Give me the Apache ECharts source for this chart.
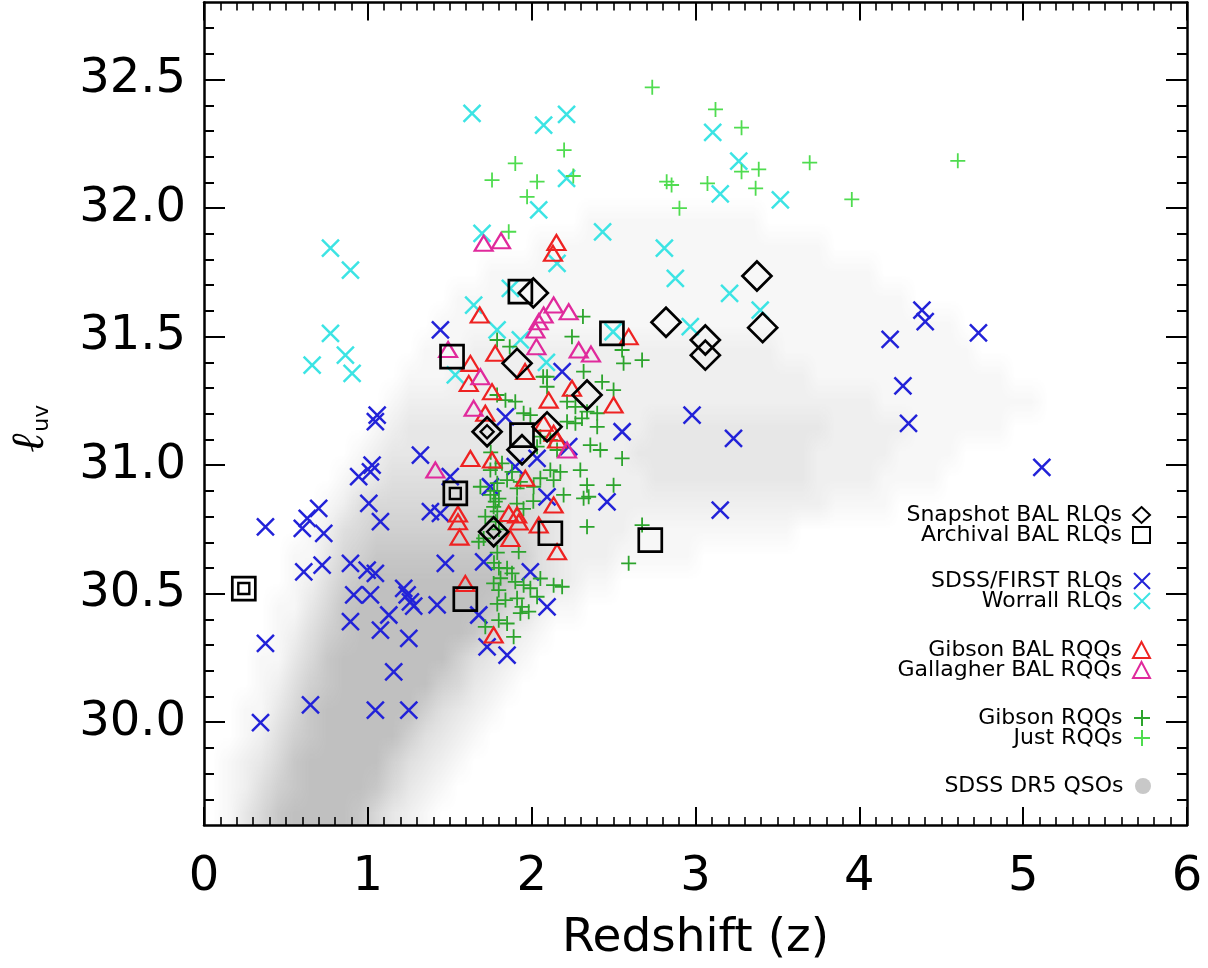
<!DOCTYPE html>
<html><head><meta charset="utf-8">
<script src="https://cdn.jsdelivr.net/npm/echarts@6/dist/echarts.min.js"></script>
<style>html,body{margin:0;padding:0;background:#fff}#c{width:1208px;height:968px}</style>
</head><body><div id="c"></div>
<script>
// ---------------- data ----------------
const xTicks = [0, 1, 2, 3, 4, 5, 6];
const yMajorTicks = [30.0, 30.5, 31.0, 31.5, 32.0, 32.5];
const yMinorTicks = [29.7, 29.8, 29.9, 30.1, 30.2, 30.3, 30.4, 30.6, 30.7, 30.8, 30.9, 31.1, 31.2, 31.3, 31.4,
  31.6, 31.7, 31.8, 31.9, 32.1, 32.2, 32.3, 32.4, 32.6, 32.7];

// [z, l_uv, double-outline flag]
const snapshotBAL = [[2.01,31.67,0],[2.82,31.556,0],[3.375,31.736,0],[3.41,31.535,0],[3.06,31.487,0],[3.06,31.428,0],
  [1.911,31.396,0],[2.338,31.273,0],[2.094,31.149,0],[1.728,31.13,1],[1.941,31.06,0],[1.768,30.741,1]];
const archivalBAL = [[0.243,30.52,1],[1.514,31.422,0],[1.534,30.89,1],[1.595,30.479,0],[1.931,31.675,0],
  [1.941,31.117,0],[2.114,30.735,0],[2.49,31.513,0],[2.724,30.708,0]];

const sdssFirstRLQs = [[1.443,31.526],[1.057,31.195],[1.046,31.169],[1.321,31.039],[1.026,31.0],[1.016,30.974],
  [0.944,30.955],[0.70,30.832],[0.63,30.793],[0.60,30.754],[0.731,30.735],[0.375,30.76],[1.006,30.851],[1.077,30.78],
  [1.382,30.819],[1.443,30.812],[1.503,30.955],[1.84,31.188],[1.748,30.916],[1.90,30.994],[2.033,31.026],[2.094,30.877],
  [1.473,30.618],[1.707,30.624],[0.609,30.585],[0.721,30.611],[0.894,30.618],[0.996,30.592],[1.046,30.579],[1.992,30.585],
  [0.914,30.495],[1.016,30.495],[1.219,30.521],[1.24,30.495],[1.26,30.468],[1.28,30.452],[1.423,30.456],[0.894,30.391],
  [1.128,30.417],[1.077,30.358],[1.25,30.326],[0.375,30.307],[1.158,30.196],[0.65,30.067],[1.046,30.047],[1.25,30.047],
  [0.345,29.998],[1.677,30.417],[1.728,30.293],[1.85,30.261],[2.094,30.449],[2.552,31.13],[2.226,31.072],[2.46,30.857],
  [2.186,31.364],[2.979,31.195],[3.232,31.104],[3.151,30.825],[4.382,31.603],[4.402,31.558],[4.188,31.489],[4.727,31.515],
  [4.266,31.308],[4.30,31.163],[5.114,30.991]];
const worrallRLQs = [[1.636,32.369],[2.073,32.323],[2.213,32.365],[0.772,31.844],[0.894,31.759],[2.043,31.993],[1.697,31.902],
  [0.772,31.513],[0.863,31.428],[0.66,31.389],[0.904,31.357],[1.646,31.623],[1.534,31.351],[1.789,31.526],[1.87,31.688],
  [1.931,31.487],[3.105,32.295],[3.264,32.183],[2.213,32.116],[3.151,32.055],[3.518,32.032],[2.433,31.908],[2.81,31.844],
  [2.877,31.727],[3.208,31.668],[2.155,31.785],[2.497,31.519],[3.395,31.603],[2.968,31.539],[2.09,31.40]];
const gibsonBALRQQs = [[2.151,31.866],[2.13,31.824],[1.683,31.584],[1.778,31.435],[1.626,31.396],[2.592,31.5],[1.96,31.364],
  [1.616,31.318],[1.758,31.286],[2.246,31.299],[2.104,31.253],[2.50,31.234],[1.717,31.202],[2.073,31.163],[2.134,31.124],
  [2.155,31.098],[1.626,31.026],[1.758,31.02],[1.961,30.949],[2.134,30.845],[1.86,30.812],[1.911,30.806],[1.55,30.81],
  [1.55,30.78],[1.56,30.72],[1.87,30.715],[1.921,30.779],[2.043,30.767],[2.155,30.663],[1.595,30.54],[1.768,30.339]];
const gallagherBALRQQs = [[1.707,31.863],[1.813,31.873],[2.134,31.623],[2.226,31.597],[2.073,31.584],[2.043,31.558],
  [2.023,31.526],[2.029,31.461],[2.287,31.448],[2.362,31.432],[1.49,31.45],[1.687,31.344],[1.646,31.221],[2.216,31.059],
  [1.412,30.981]];
const gibsonRQQs = [[1.866,31.461],[2.313,31.578],[2.246,31.5],[2.552,31.448],[2.561,31.396],[2.674,31.409],[2.094,31.344],
  [2.317,31.364],[2.43,31.324],[2.50,31.292],[1.84,31.253],[1.90,31.247],[1.789,31.273],[2.216,31.247],[2.267,31.227],
  [1.951,31.202],[1.992,31.195],[2.338,31.208],[2.40,31.202],[2.216,31.169],[2.267,31.163],[2.307,31.182],[2.40,31.149],
  [2.114,31.098],[2.053,31.111],[2.033,31.072],[2.155,31.059],[2.358,31.078],[2.419,31.059],[2.552,31.026],[1.748,30.981],
  [1.819,31.007],[1.931,30.935],[2.012,30.916],[2.053,30.949],[2.114,30.981],[2.175,30.974],[2.134,30.942],[2.297,30.981],
  [2.338,30.922],[2.50,30.922],[2.195,30.884],[2.317,30.871],[2.348,30.877],[1.687,30.916],[1.748,30.884],[1.778,30.858],
  [1.768,30.838],[1.85,30.942],[1.911,30.91],[1.88,30.974],[2.01,30.86],[1.95,30.83],[1.91,30.85],[1.717,30.80],
  [1.707,30.715],[1.677,30.702],[1.921,30.663],[2.338,30.76],[2.592,30.618],[2.674,30.767],[1.85,30.599],[1.88,30.579],
  [1.90,30.546],[1.951,30.533],[1.992,30.521],[2.053,30.559],[2.134,30.533],[2.186,30.527],[1.768,30.54],[1.799,30.514],
  [1.84,30.475],[1.911,30.482],[1.941,30.449],[1.982,30.43],[1.931,30.424],[2.033,30.488],[1.799,30.397],[1.85,30.384],
  [1.717,30.371],[1.89,30.332],[1.75,31.05],[1.78,30.99],[1.79,30.93],[1.77,30.9],[1.8,30.87],[1.79,30.82],[1.78,30.78],
  [1.8,30.75],[1.79,30.66],[1.77,30.62],[1.8,30.6],[1.81,30.56],[1.79,30.46],[2.07,31.344],[2.094,31.305],[1.789,31.487]];
const justRQQs = [[2.736,32.47],[3.122,32.384],[3.281,32.313],[2.198,32.226],[2.254,32.125],[2.824,32.103],[2.854,32.09],
  [3.073,32.096],[3.281,32.142],[3.386,32.151],[3.367,32.077],[3.697,32.177],[2.902,32.0],[3.954,32.034],[4.601,32.184],
  [1.86,31.908],[1.90,32.174],[1.758,32.109],[2.033,32.103],[1.972,32.044]];

// SDSS DR5 QSO cloud: relative density (0-9) per cell; columns z = 0..6 step 0.1, rows l = 32.8 down to 29.6 step 0.1
// (each row lists its leading cells; the rest of the row is empty)
const cloudCols = 60, cloudZMin = 0, cloudZMax = 6, cloudLMin = 29.6, cloudLMax = 32.8;
const cloudRows = [
  "", "", "", "", "", "", "", "",
  "0000000000000000000000011111111111",
  "00000000000000000000111111111111111111",
  "00000000000000000111111111111111111111111",
  "0000000000000001111111111111111111111111111",
  "0000000000000011111111111111111111111111111111",
  "00000000000001112222222222222222222111111111111",
  "0000000000001112222222222222222222222111111111111",
  "000000000001222222222222222222222222222221111111111",
  "0000000000123333333322222223333333333322222111111",
  "0000000001233333333332222233333333333222221111",
  "000000001234444444444322222333333333322221111",
  "000000012455555555554322222222222222221111",
  "000000124566666666654322221111111111",
  "000001135677777777664322211111",
  "0000012467888888887543211",
  "00001135788888888754211",
  "000012467888888875321",
  "00011357888888864321",
  "0001246788888865321",
  "001135788888864321",
  "00124678888864321",
  "0123578888864321",
  "012467888875321",
  "01357888875321"
];

// ---------------- build ----------------
const cloudCanvas = document.createElement('canvas');
cloudCanvas.width = cloudCols; cloudCanvas.height = cloudRows.length;
(function () {
  const ctx = cloudCanvas.getContext('2d');
  cloudRows.forEach((row, r) => {
    const s = row.padEnd(cloudCols, '0');
    for (let c = 0; c < cloudCols; c++) {
      const v = +s[c];
      if (v > 0) {
        ctx.fillStyle = 'rgba(90,90,90,' + (v * 0.048).toFixed(3) + ')';
        ctx.fillRect(c, r, 1, 1);
      }
    }
  });
})();

const FONT = 'DejaVu Sans';
const crossX = 'path://M0,0L10,10M10,0L0,10';
const crossP = 'path://M5,0L5,10M0,5L10,5';
const none = 'rgba(0,0,0,0)';

function scatter(name, data, symbol, size, color, bw) {
  return {
    type: 'scatter', name, data: data.map(d => [d[0], d[1]]), symbol, symbolSize: size,
    itemStyle: { color: none, borderColor: color, borderWidth: bw, opacity: 1 },
    z: 3, silent: true, animation: false
  };
}

const axisLineStyle = { show: true, onZero: false, lineStyle: { color: '#000', width: 2.5 } };
const noLine = { show: false, onZero: false };
const labelStyle = { fontFamily: FONT, fontSize: 48, color: '#000' };

const xBase = {
  type: 'value', min: 0, max: 6, interval: 1, axisLine: axisLineStyle, z: 10,
  axisTick: { show: true, inside: true, length: 18, lineStyle: { color: '#000', width: 2 } },
  minorTick: { show: true, splitNumber: 10, length: 8, lineStyle: { color: '#000', width: 1.6 } },
  splitLine: { show: false }, minorSplitLine: { show: false }
};
const yBase = {
  type: 'value', min: 29.6, max: 32.8, axisLine: axisLineStyle, z: 10,
  splitLine: { show: false }, minorSplitLine: { show: false }
};

const legendCommon = {
  orient: 'vertical', align: 'right', right: 57, itemWidth: 17, itemHeight: 16, itemGap: -2, padding: 0,
  selectedMode: false,
  textStyle: { fontFamily: FONT, fontSize: 22, lineHeight: 16, color: '#000', padding: [0, 6, 0, 0] }
};

const option = {
  backgroundColor: '#fff',
  animation: false,
  grid: { left: 203.5, right: 21, top: 2.5, bottom: 143, containLabel: false },
  xAxis: [
    Object.assign({}, xBase, {
      position: 'bottom',
      axisLabel: Object.assign({ margin: 29, formatter: v => String(v), customValues: xTicks }, labelStyle),
      name: 'Redshift (z)', nameLocation: 'middle', nameGap: 90, nameMoveOverlap: false,
      nameTextStyle: { fontFamily: FONT, fontSize: 47, color: '#000' }
    }),
    Object.assign({}, xBase, { position: 'top', axisLabel: { show: false } })
  ],
  yAxis: [
    Object.assign({}, yBase, {
      position: 'left',
      axisTick: { show: true, inside: true, length: 21, customValues: yMajorTicks, lineStyle: { color: '#000', width: 2 } },
      axisLabel: Object.assign({ margin: 18, customValues: yMajorTicks, formatter: v => v.toFixed(1) }, labelStyle),
      name: '{l|ℓ}{s|uv}', nameLocation: 'middle', nameRotate: 90, nameGap: 150,
      nameTextStyle: { padding: [0, 30, 0, 0], rich: {
        l: { fontFamily: 'DejaVu Serif', fontStyle: 'italic', fontSize: 46, color: '#000' },
        s: { fontFamily: FONT, fontSize: 22, color: '#000', padding: [22, 0, 0, 2] }
      } }
    }),
    Object.assign({}, yBase, {
      position: 'left', axisLine: noLine,
      axisTick: { show: true, inside: true, length: 10, customValues: yMinorTicks, lineStyle: { color: '#000', width: 2 } },
      axisLabel: { show: false }
    }),
    Object.assign({}, yBase, {
      position: 'right',
      axisTick: { show: true, inside: true, length: 21, customValues: yMajorTicks, lineStyle: { color: '#000', width: 2 } },
      axisLabel: { show: false }
    }),
    Object.assign({}, yBase, {
      position: 'right', axisLine: noLine,
      axisTick: { show: true, inside: true, length: 10, customValues: yMinorTicks, lineStyle: { color: '#000', width: 2 } },
      axisLabel: { show: false }
    })
  ],
  legend: [
    Object.assign({}, legendCommon, { top: 504, data: ['Snapshot BAL RLQs', 'Archival BAL RLQs'] }),
    Object.assign({}, legendCommon, { top: 570, data: ['SDSS/FIRST RLQs', 'Worrall RLQs'] }),
    Object.assign({}, legendCommon, { top: 639, data: ['Gibson BAL RQQs', 'Gallagher BAL RQQs'] }),
    Object.assign({}, legendCommon, { top: 707, data: ['Gibson RQQs', 'Just RQQs'] }),
    Object.assign({}, legendCommon, { top: 775, data: [{ name: 'SDSS DR5 QSOs', icon: 'circle', itemStyle: { color: '#c8c8c8', borderWidth: 0 } }] })
  ],
  series: [
    {
      type: 'custom', name: 'SDSS DR5 QSOs', data: [[cloudZMin, cloudZMax, cloudLMin, cloudLMax]],
      encode: { x: [0, 1], y: [2, 3] }, itemStyle: { color: '#c8c8c8' }, z: 1, silent: true, clip: true,
      renderItem: function (params, api) {
        const p0 = api.coord([api.value(0), api.value(3)]);
        const p1 = api.coord([api.value(1), api.value(2)]);
        return { type: 'image', style: { image: cloudCanvas, x: p0[0], y: p0[1], width: p1[0] - p0[0], height: p1[1] - p0[1] } };
      }
    },
    scatter('SDSS/FIRST RLQs', sdssFirstRLQs, crossX, 17, '#2222d8', 2.5),
    scatter('Worrall RLQs', worrallRLQs, crossX, 17, '#3ce4e4', 2.5),
    scatter('Gibson RQQs', gibsonRQQs, crossP, 15, '#2ca42c', 1.8),
    scatter('Just RQQs', justRQQs, crossP, 15, '#4fdc4f', 1.8),
    scatter('Gibson BAL RQQs', gibsonBALRQQs, 'triangle', [18, 15], '#ee2222', 2.2),
    scatter('Gallagher BAL RQQs', gallagherBALRQQs, 'triangle', [18, 15], '#e02a9c', 2.2),
    scatter('Archival BAL RLQs', archivalBAL, 'rect', 23, '#000', 2.7),
    scatter('Archival inner', archivalBAL.filter(d => d[2]), 'rect', 11, '#000', 2.4),
    scatter('Snapshot BAL RLQs', snapshotBAL, 'diamond', 29, '#000', 2.7),
    scatter('Snapshot inner', snapshotBAL.filter(d => d[2]), 'diamond', 13, '#000', 2.4)
  ]
};
const chart = echarts.init(document.getElementById('c'), null, { renderer: 'canvas' });
chart.setOption(option);
</script></body></html>
